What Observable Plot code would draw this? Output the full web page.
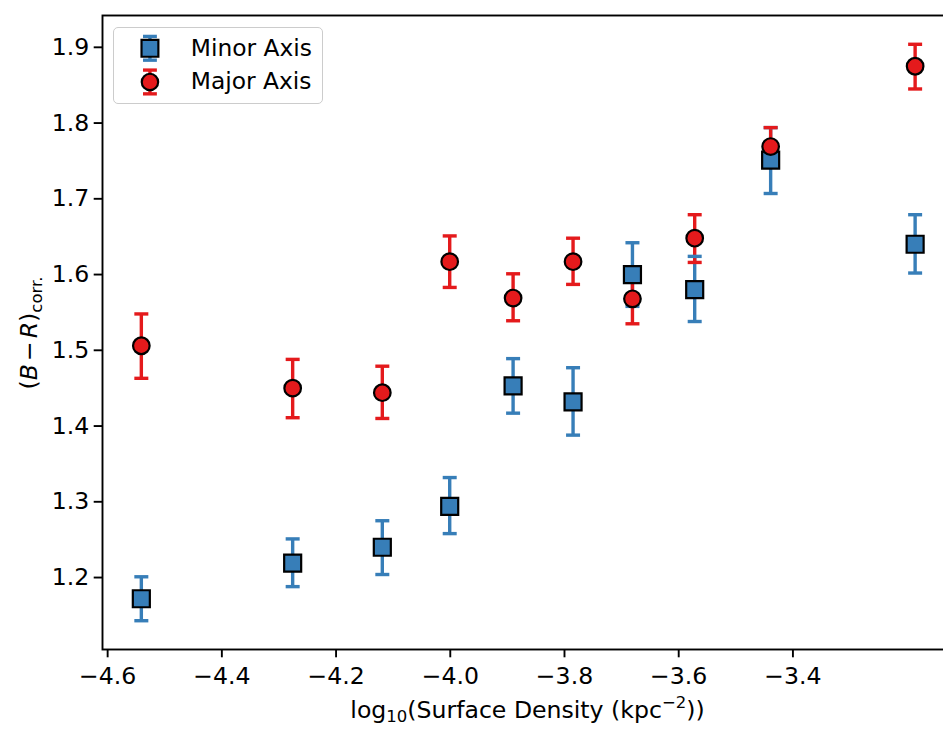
<!DOCTYPE html>
<html>
<head>
<meta charset="utf-8">
<script src="https://cdn.jsdelivr.net/npm/d3@7"></script>
<script src="https://cdn.jsdelivr.net/npm/@observablehq/plot@0.6"></script>
<style>
  html, body { margin: 0; padding: 0; background: #fff; overflow: hidden; }
  #chart { position: relative; width: 943px; height: 729px; overflow: hidden; font-family: "DejaVu Sans", sans-serif; }
  #chart > svg { position: absolute; left: 0; top: 0; }
  #legend {
    position: absolute; left: 113px; top: 27px; width: 210px; height: 77px;
    box-sizing: border-box; border: 1.5px solid #cccccc; border-radius: 5px;
    background: rgba(255, 255, 255, 0.8);
  }
  #legend svg { position: absolute; left: -1.5px; top: -1.5px; }
</style>
</head>
<body>
<div id="chart"><div id="legend"></div></div>
<script>
// log10 surface density bins (kpc^-2)
const density = [-4.541, -4.276, -4.119, -4.001, -3.890, -3.785, -3.681, -3.572, -3.439, -3.186];

// (B - R) colour along the minor axis, with lower / upper error limits
const minorColour = [1.172, 1.219, 1.240, 1.294, 1.453, 1.432, 1.600, 1.580, 1.751, 1.640];
const minorLow    = [1.143, 1.188, 1.204, 1.258, 1.417, 1.388, 1.558, 1.538, 1.707, 1.602];
const minorHigh   = [1.201, 1.251, 1.275, 1.332, 1.489, 1.477, 1.642, 1.624, 1.794, 1.679];

// (B - R) colour along the major axis, with lower / upper error limits
const majorColour = [1.506, 1.450, 1.444, 1.617, 1.569, 1.617, 1.568, 1.648, 1.769, 1.875];
const majorLow    = [1.463, 1.411, 1.410, 1.583, 1.539, 1.587, 1.535, 1.616, 1.744, 1.845];
const majorHigh   = [1.548, 1.488, 1.479, 1.651, 1.601, 1.648, 1.600, 1.679, 1.794, 1.904];

const seriesNames   = ["Minor Axis", "Major Axis"];
const seriesColors  = ["#377eb8", "#e41a1c"];
const seriesSymbols = ["square", "circle"];

const xTicks = [-4.6, -4.4, -4.2, -4.0, -3.8, -3.6, -3.4];
const yTicks = [1.2, 1.3, 1.4, 1.5, 1.6, 1.7, 1.8, 1.9];

const seriesValues = [
  {mid: minorColour, low: minorLow, high: minorHigh},
  {mid: majorColour, low: majorLow, high: majorHigh}
];
const rows = seriesNames.flatMap((name, s) =>
  density.map((x, i) => ({
    series: name,
    x,
    y: seriesValues[s].mid[i],
    lo: seriesValues[s].low[i],
    hi: seriesValues[s].high[i]
  }))
);
const minorRows = rows.filter(d => d.series === seriesNames[0]);
const majorRows = rows.filter(d => d.series === seriesNames[1]);

// horizontal error-bar cap drawn as a symbol
const cap = {draw(ctx) { ctx.moveTo(-7, 0); ctx.lineTo(7, 0); }};

const fmt = d => d.toFixed(1).replace("-", "\u2212");
const FONT = 23.6;
const SUB = 16.5;
const ERR_W = 3.4;

// the axes box runs a little past the right edge of the page, so its right side is cut off
const chart = Plot.plot({
  width: 943,
  height: 729,
  marginLeft: 102,
  marginRight: -10,
  marginTop: 15,
  marginBottom: 80,
  style: {fontFamily: "DejaVu Sans, sans-serif", fontSize: FONT + "px", color: "black", background: "transparent", overflow: "hidden"},
  x: {domain: [-4.609, -3.1188]},
  y: {domain: [1.1050, 1.9420]},
  color: {domain: seriesNames, range: seriesColors},
  symbol: {domain: seriesNames, range: seriesSymbols},
  marks: [
    Plot.ruleX(rows, {x: "x", y1: "lo", y2: "hi", stroke: "series", strokeWidth: ERR_W}),
    Plot.dot(rows, {x: "x", y: "lo", symbol: cap, stroke: "series", strokeWidth: ERR_W, fill: "none"}),
    Plot.dot(rows, {x: "x", y: "hi", symbol: cap, stroke: "series", strokeWidth: ERR_W, fill: "none"}),
    Plot.dot(minorRows, {x: "x", y: "y", symbol: "series", fill: "series", stroke: "black", strokeWidth: 2.2, r: 9.6}),
    Plot.dot(majorRows, {x: "x", y: "y", symbol: "series", fill: "series", stroke: "black", strokeWidth: 2.2, r: 8.3}),
    Plot.axisX({ticks: xTicks, tickFormat: fmt, tickSize: 8.3, tickPadding: 9, strokeWidth: 1.9, fontSize: FONT, label: null}),
    Plot.axisY({ticks: yTicks, tickFormat: fmt, tickSize: 8.3, tickPadding: 5, strokeWidth: 1.9, fontSize: FONT, label: null}),
    Plot.frame({stroke: "black", strokeWidth: 1.9})
  ]
});
document.getElementById("chart").prepend(chart);

// axis titles with sub/superscripts
const svg = d3.select(chart);
const xl = svg.append("text")
  .attr("x", 527.5).attr("y", 718)
  .attr("text-anchor", "middle")
  .attr("font-size", FONT).attr("fill", "black");
xl.append("tspan").text("log");
xl.append("tspan").attr("font-size", SUB).attr("dy", 4).text("10");
xl.append("tspan").attr("dy", -4).text("(Surface Density (kpc");
xl.append("tspan").attr("font-size", SUB).attr("dy", -10).text("\u22122");
xl.append("tspan").attr("dy", 10).text("))");

const yl = svg.append("text")
  .attr("transform", "translate(37,333) rotate(-90)")
  .attr("text-anchor", "middle")
  .attr("font-size", FONT).attr("fill", "black");
yl.append("tspan").text("(");
yl.append("tspan").attr("font-style", "italic").text("B");
yl.append("tspan").attr("dx", 3).text("\u2212");
yl.append("tspan").attr("dx", 3).attr("font-style", "italic").text("R");
yl.append("tspan").text(")");
yl.append("tspan").attr("font-size", SUB).attr("dy", 5).text("corr.");

// legend
const legend = Plot.plot({
  width: 210,
  height: 77,
  margin: 0,
  style: {fontFamily: "DejaVu Sans, sans-serif", fontSize: FONT + "px", color: "black", background: "transparent", overflow: "visible"},
  x: {domain: [0, 210], range: [0, 210], axis: null},
  y: {type: "band", domain: seriesNames, range: [9.2, 67.5], paddingInner: 0.3, paddingOuter: 0, axis: null},
  color: {domain: seriesNames, range: seriesColors},
  symbol: {domain: seriesNames, range: seriesSymbols},
  marks: [
    Plot.tickX(seriesNames, {x: 36.8, y: d => d, stroke: d => d, strokeWidth: ERR_W}),
    Plot.dot(seriesNames, {x: 36.8, y: d => d, dy: -12, symbol: cap, stroke: d => d, strokeWidth: ERR_W, fill: "none"}),
    Plot.dot(seriesNames, {x: 36.8, y: d => d, dy: 12, symbol: cap, stroke: d => d, strokeWidth: ERR_W, fill: "none"}),
    Plot.dot([seriesNames[0]], {x: 36.8, y: d => d, symbol: d => d, fill: d => d, stroke: "black", strokeWidth: 2.2, r: 9.6}),
    Plot.dot([seriesNames[1]], {x: 36.8, y: d => d, symbol: d => d, fill: d => d, stroke: "black", strokeWidth: 2.2, r: 8.3}),
    Plot.text(seriesNames, {x: 78, y: d => d, text: d => d, textAnchor: "start", fontSize: FONT, fill: "black"})
  ]
});
document.getElementById("legend").append(legend);
</script>
</body>
</html>
